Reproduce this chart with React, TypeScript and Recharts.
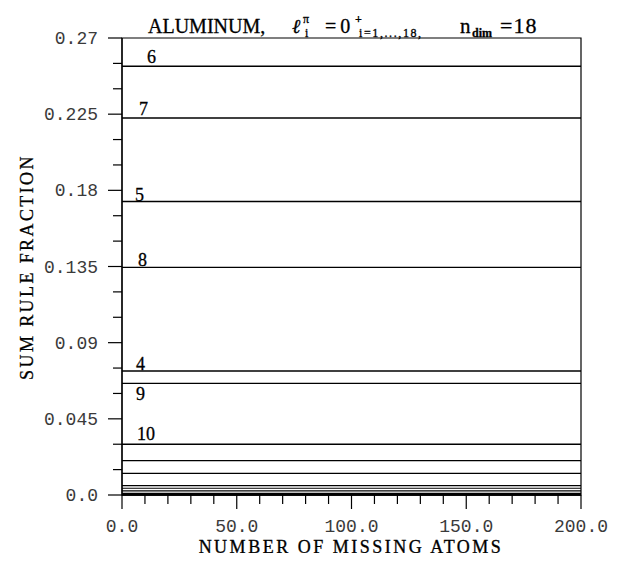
import React from 'react';
import { LineChart, Line, XAxis, YAxis, ReferenceArea } from 'recharts';

// state numbers, ordered from the largest sum-rule fraction down
const stateIds = [6, 7, 5, 8, 4, 9, 10, 11, 12, 13, 14, 15, 16, 17, 18, 3, 2, 1];
const fractions = [
  0.2533, 0.2227, 0.1734, 0.1345, 0.0733, 0.066, 0.03, 0.0203, 0.0128,
  0.0055, 0.004, 0.0024, 0.001, 0.0005, 0.0003, 0.0002, 0.0001, 0.00005,
];
const labelledStates = [6, 7, 5, 8, 4, 9, 10];
const missingAtoms = [0, 200];

const yMajorTicks = [0, 0.045, 0.09, 0.135, 0.18, 0.225, 0.27];
const yMinorTicks = [0.015, 0.03, 0.06, 0.075, 0.105, 0.12, 0.15, 0.165, 0.195, 0.21, 0.24, 0.255];
const xMajorTicks = [0, 50, 100, 150, 200];
const xMinorTicks = [10, 20, 30, 40, 60, 70, 80, 90, 110, 120, 130, 140, 160, 170, 180, 190];

// where each state number sits relative to the left end of its line
const labelOffset: Record<number, [number, number]> = {
  6: [25, -3],
  7: [17, -3],
  5: [13, -1],
  8: [16, -1],
  4: [14, -1],
  9: [14, 17],
  10: [15, -4],
};

const data = missingAtoms.map((x) => {
  const row: Record<string, number> = { x };
  stateIds.forEach((id, i) => {
    row[`s${id}`] = fractions[i];
  });
  return row;
});

const isMajor = (v: number, list: number[]) => list.some((m) => Math.abs(m - v) < 1e-9);

const tickFont = { fontFamily: '"Liberation Mono", "DejaVu Sans Mono", monospace', fontSize: 18, fill: '#3a3a3a' };
const serif = '"Liberation Serif", "DejaVu Serif", serif';

const YTick = (props: any) => {
  const { x, y, payload } = props;
  const v = payload.value;
  const major = isMajor(v, yMajorTicks);
  return (
    <g>
      <line x1={x - (major ? 14 : 9)} x2={x} y1={y} y2={y} stroke="#000" strokeWidth={1.2} />
      {major && (
        <text x={x - 24} y={y} dy={6} textAnchor="end" {...tickFont}>
          {v === 0 ? '0.0' : String(v)}
        </text>
      )}
    </g>
  );
};

const XTick = (props: any) => {
  const { x, y, payload } = props;
  const v = payload.value;
  const major = isMajor(v, xMajorTicks);
  return (
    <g>
      <line x1={x} x2={x} y1={y} y2={y + (major ? 14 : 9)} stroke="#000" strokeWidth={1.2} />
      {major && (
        <text x={x} y={y + 37} textAnchor="middle" {...tickFont}>
          {v.toFixed(1)}
        </text>
      )}
    </g>
  );
};

const makeDot = (id: number) => (props: any) => {
  const { cx, cy, index } = props;
  const off = labelOffset[id];
  if (index !== 0 || !off || !labelledStates.includes(id)) return <g key={`d-${id}-${index}`} />;
  return (
    <text
      key={`d-${id}-${index}`}
      x={cx + off[0]}
      y={cy + off[1]}
      fontFamily={serif}
      fontSize={18}
      fill="#000"
      stroke="#000"
      strokeWidth={0.3}
    >
      {id}
    </text>
  );
};

export default function App() {
  return (
    <div style={{ position: 'relative', width: 604, height: 545 }}>
      <LineChart width={604} height={545} data={data} margin={{ top: 30, right: 31, bottom: 8, left: 0 }}>
        <XAxis
          dataKey="x"
          type="number"
          domain={[0, 200]}
          ticks={[...xMajorTicks, ...xMinorTicks].sort((a, b) => a - b)}
          interval={0}
          tick={<XTick />}
          tickLine={false}
          tickSize={0}
          tickMargin={0}
          axisLine={{ stroke: '#000', strokeWidth: 1.2 }}
          height={50}
        />
        <YAxis
          type="number"
          domain={[0, 0.27]}
          ticks={[...yMajorTicks, ...yMinorTicks].sort((a, b) => a - b)}
          interval={0}
          tick={<YTick />}
          tickLine={false}
          tickSize={0}
          tickMargin={0}
          axisLine={{ stroke: '#000', strokeWidth: 1.2 }}
          width={114}
        />
        <ReferenceArea x1={0} x2={200} y1={0} y2={0.27} fill="none" stroke="#000" strokeWidth={1.2} />
        {stateIds.map((id, i) => (
          <Line
            key={id}
            type="linear"
            dataKey={`s${id}`}
            stroke="#000"
            strokeWidth={i < 7 && id !== 8 && id !== 9 ? 1.6 : 1.2}
            dot={makeDot(id)}
            activeDot={false}
            isAnimationActive={false}
          />
        ))}
      </LineChart>
      <svg
        width={604}
        height={545}
        style={{ position: 'absolute', left: 0, top: 0, pointerEvents: 'none', overflow: 'visible' }}
      >
        <g fontFamily={serif} fill="#000" stroke="#000" strokeWidth={0.3}>
          <text x={140} y={25} fontSize={20}>ALUMINUM,</text>
          <text x={284} y={25} fontSize={20} fontStyle="italic">ℓ</text>
          <text x={295} y={15} fontSize={12}>π</text>
          <text x={297} y={29} fontSize={12}>i</text>
          <text x={317} y={25} fontSize={20} letterSpacing={4}>=0</text>
          <text x={347} y={15} fontSize={12} fontWeight="bold">+</text>
          <text x={351} y={29} fontSize={12} letterSpacing={1.6}>i=1,...,18,</text>
          <text x={452} y={25} fontSize={21}>n</text>
          <text x={464} y={29} fontSize={12} fontWeight="bold">dim</text>
          <text x={492} y={25} fontSize={22} letterSpacing={1}>=18</text>
          <text x={343} y={545} fontSize={18} letterSpacing={2.5} textAnchor="middle">
            NUMBER OF MISSING ATOMS
          </text>
          <text x={25} y={259} fontSize={18} letterSpacing={2.4} textAnchor="middle" transform="rotate(-90 25 259)">
            SUM RULE FRACTION
          </text>
        </g>
      </svg>
    </div>
  );
}
